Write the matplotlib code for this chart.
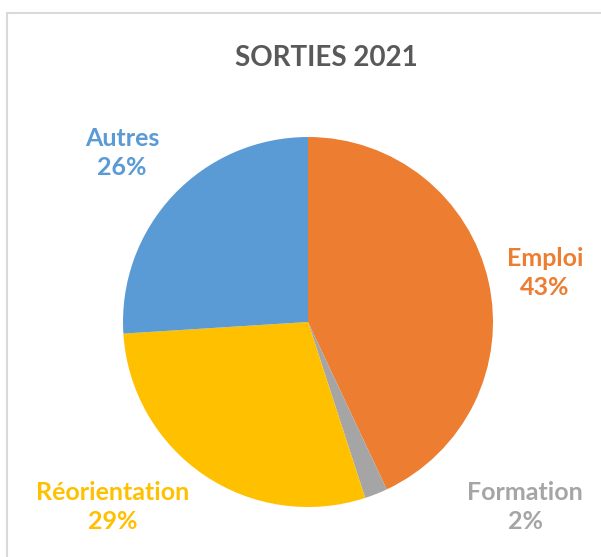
import matplotlib.pyplot as plt
from matplotlib.patches import Rectangle

# data
categories = ["Emploi", "Formation", "Réorientation", "Autres"]
shares = [43, 2, 29, 26]
colors = ["#ED7D31", "#A5A5A5", "#FFC000", "#5B9BD5"]
title = "SORTIES 2021"

# label anchor points (in pie radius units), as Excel placed them
label_pos = [(1.28, 0.265), (1.173, -1.0), (-1.054, -1.0), (-1.005, 0.914)]

plt.rcParams['font.family'] = ['Lato', 'DejaVu Sans']

W, H = 601, 557
fig = plt.figure(figsize=(W / 100, H / 100), dpi=100)

# chart frame (light grey border, runs off the right/bottom edge)
fig.patches.append(Rectangle((7 / W, -0.1), 1.2, 1 - 13 / H + 0.1,
                             transform=fig.transFigure, fill=False,
                             edgecolor='#D9D9D9', linewidth=1.5))

# pie axes: centre (308, 322) px, radius 185 px
cx, cy, r = 308, 322, 185
ax = fig.add_axes([(cx - r) / W, (H - cy - r) / H, 2 * r / W, 2 * r / H])
ax.pie(shares, colors=colors, startangle=90, counterclock=False,
       radius=1, wedgeprops=dict(linewidth=0))
ax.set_xlim(-1, 1)
ax.set_ylim(-1, 1)
ax.set_aspect('auto')
ax.axis('off')

for name, val, col, (x, y) in zip(categories, shares, colors, label_pos):
    ax.text(x, y, f"{name}\n{val}%", color=col, fontsize=18, fontweight='bold',
            ha='center', va='center', linespacing=1.3, clip_on=False)

fig.text(326 / W, 1 - 58 / H, title, color='#595959', fontsize=20,
         fontweight='bold', ha='center', va='center')

fig.savefig("out.png", dpi=100)
